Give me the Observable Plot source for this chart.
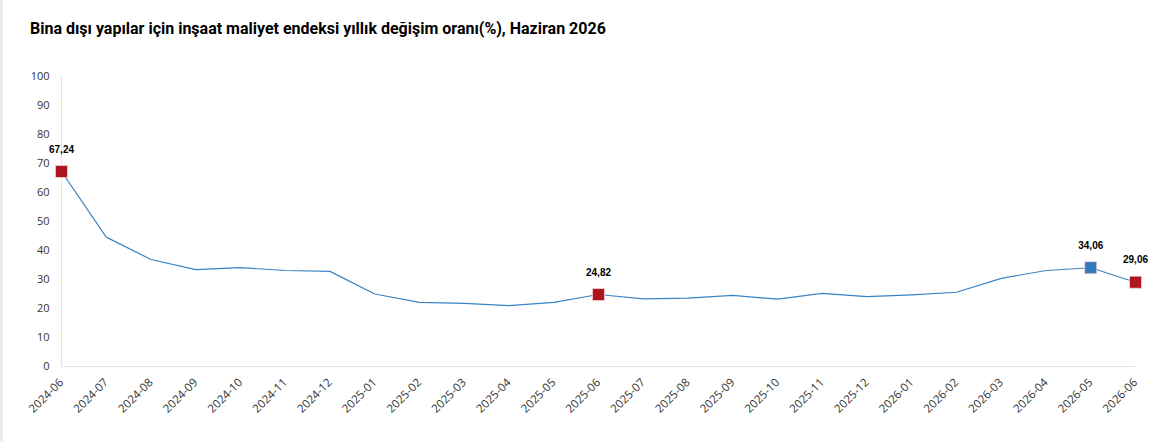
<!DOCTYPE html>
<html>
<head>
<meta charset="utf-8">
<script src="https://cdn.jsdelivr.net/npm/d3@7"></script>
<script src="https://cdn.jsdelivr.net/npm/@observablehq/plot@0.6"></script>
<style>
  html, body { margin: 0; padding: 0; background: #fff; }
  body { width: 1170px; height: 442px; overflow: hidden; position: relative; }
  #strip { position: absolute; left: 0; top: 0; width: 3px; height: 442px; background: #ececec; z-index: 5; }
  #title { position: absolute; left: 30px; top: 19px; font-family: Roboto, "Noto Sans", sans-serif; font-weight: 700; font-size: 16px; color: #000; }
  #chart { position: absolute; left: 0; top: 60px; }
</style>
</head>
<body>
<div id="strip"></div>
<div id="title">Bina dışı yapılar için inşaat maliyet endeksi yıllık değişim oranı(%), Haziran 2026</div>
<div id="chart"></div>
<script>
const months = ["2024-06","2024-07","2024-08","2024-09","2024-10","2024-11","2024-12",
  "2025-01","2025-02","2025-03","2025-04","2025-05","2025-06","2025-07","2025-08","2025-09",
  "2025-10","2025-11","2025-12","2026-01","2026-02","2026-03","2026-04","2026-05","2026-06"];
const values = [67.24,44.6,36.9,33.4,34.1,33.1,32.8,
  25.0,22.1,21.8,21.0,22.1,24.82,23.3,23.6,24.5,
  23.2,25.2,24.1,24.7,25.6,30.4,33.1,34.06,29.06];
const highlightMonths = ["2024-06","2025-06","2026-05","2026-06"];
const highlightColors = ["#ad1520","#ad1520","#2f7bbd","#ad1520"];
const yTicks = [0,10,20,30,40,50,60,70,80,90,100];

const data = months.map((m, i) => ({month: m, value: values[i]}));
const hl = highlightMonths.map((m, i) => ({month: m, value: values[months.indexOf(m)], color: highlightColors[i]}));
const fmt = v => v.toFixed(2).replace(".", ",");

const chart = Plot.plot({
  width: 1170,
  height: 382,
  marginLeft: 61,
  marginRight: 35,
  marginTop: 16,
  marginBottom: 76,
  x: {type: "point", domain: months, padding: 0, round: false},
  y: {domain: [0, 100]},
  style: {fontFamily: "'Open Sans', 'Noto Sans', sans-serif", background: "#fff"},
  marks: [
    Plot.ruleY([0], {stroke: "#dfe3ea", strokeWidth: 1}),
    Plot.ruleX([months[0]], {y1: 0, y2: 100, stroke: "#dfe3ea", strokeWidth: 1}),
    Plot.axisY({ticks: yTicks, tickSize: 0, tickPadding: 12, fontSize: 11, fill: "#333", label: null}),
    Plot.axisX({tickSize: 0, tickRotate: -45, tickPadding: 14, fontSize: 11.5, fill: "#333", label: null}),
    Plot.line(data, {x: "month", y: "value", stroke: "#3a84c4", strokeWidth: 1.2}),
    Plot.dot(hl, {x: "month", y: "value", symbol: "square", r: 6.8, fill: "color", stroke: "#f3d6d6", strokeWidth: 0.8}),
    Plot.text(hl, {x: "month", y: "value", text: d => fmt(d.value), dy: -22, fontSize: 10, fontWeight: "bold", fill: "#000", fontFamily: "'Liberation Sans', Arial, sans-serif"})
  ]
});
document.getElementById("chart").appendChild(chart);
</script>
</body>
</html>
